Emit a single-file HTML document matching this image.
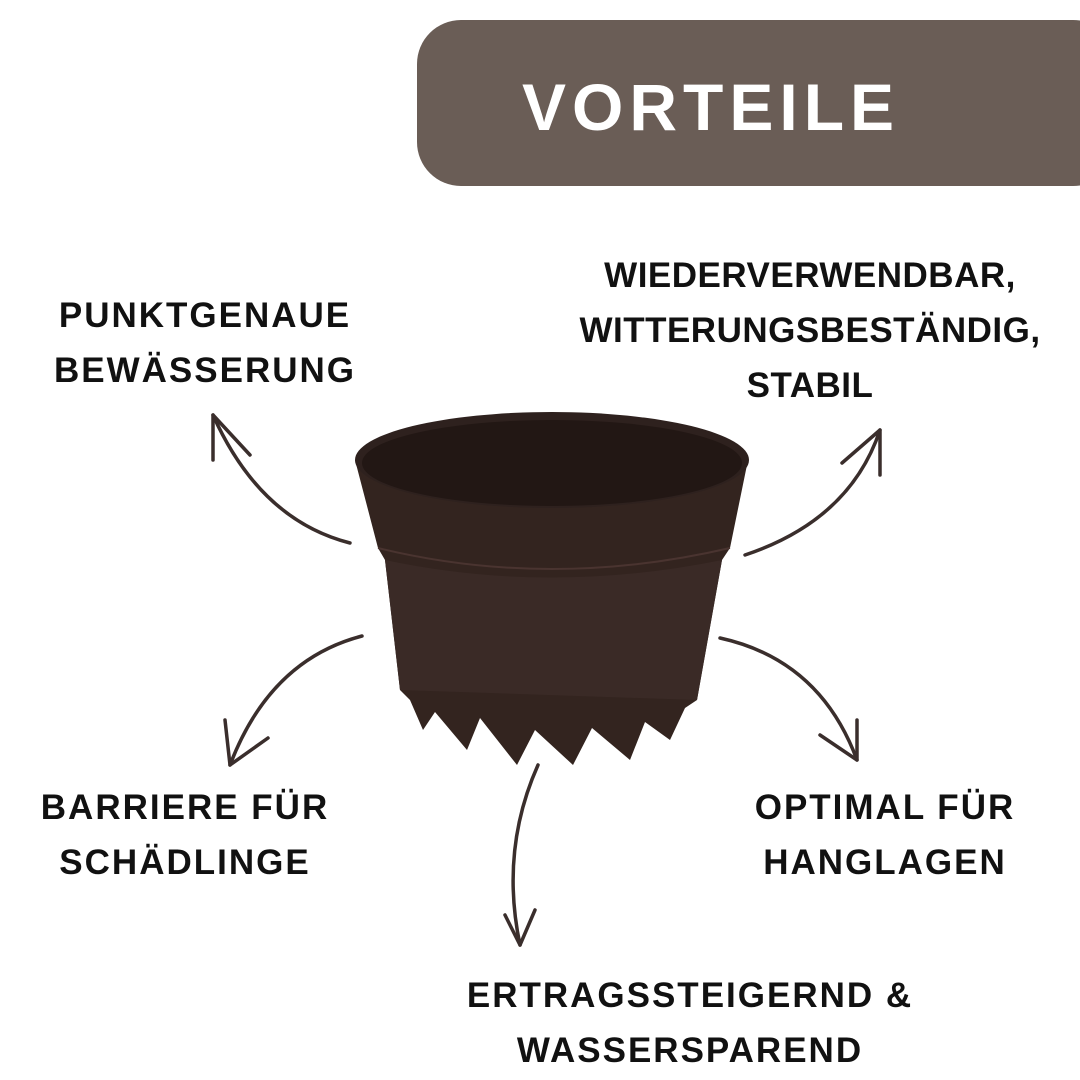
<!DOCTYPE html>
<html><head><meta charset="utf-8"><style>
html,body{margin:0;padding:0;background:#fff;}
#c{position:relative;width:1080px;height:1080px;overflow:hidden;background:#fff;font-family:"Liberation Sans","DejaVu Sans",sans-serif;}
.hdr{position:absolute;left:417px;top:20px;width:700px;height:166px;background:#6a5d56;border-radius:44px;}
.ht{position:absolute;left:522px;top:74px;font-size:66px;font-weight:900;color:#fff;letter-spacing:6px;line-height:1;}
.l{position:absolute;font-weight:900;color:#111;font-size:35px;line-height:55px;text-align:center;letter-spacing:2px;white-space:nowrap;}
</style></head><body><div id="c">
<div class="hdr"></div><div class="ht">VORTEILE</div>
<div class="l" style="left:30px;width:350px;top:288px;">PUNKTGENAUE<br>BEWÄSSERUNG</div>
<div class="l" style="left:545px;width:530px;top:248px;letter-spacing:0.5px;">WIEDERVERWENDBAR,<br>WITTERUNGSBESTÄNDIG,<br>STABIL</div>
<div class="l" style="left:10px;width:350px;top:780px;">BARRIERE FÜR<br>SCHÄDLINGE</div>
<div class="l" style="left:720px;width:330px;top:780px;">OPTIMAL FÜR<br>HANGLAGEN</div>
<div class="l" style="left:430px;width:520px;top:968px;">ERTRAGSSTEIGERND &amp;<br>WASSERSPAREND</div>
<svg width="1080" height="1080" style="position:absolute;left:0;top:0">
<g fill="none" stroke="#3a2e2c" stroke-width="3.5" stroke-linecap="round" stroke-linejoin="round">
<path d="M350 543 Q260 520 213 415"/><path d="M213 460 L213 415 L250 455"/>
<path d="M745 555 Q850 520 880 430"/><path d="M842 463 L880 430 L880 475"/>
<path d="M362 636 Q270 660 230 765"/><path d="M225 720 L230 765 L268 738"/>
<path d="M720 638 Q820 660 857 760"/><path d="M820 735 L857 760 L857 720"/>
<path d="M538 765 Q500 850 520 945"/><path d="M505 915 L520 945 L535 910"/>
</g>
<path d="M355 460 L378 548 L385 560 L400 690 L410 700 L423 730 L435 712 L467 750 L480 718 L517 765 L535 730 L573 765 L592 728 L630 760 L645 722 L670 740 L685 708 L697 700 L722 560 L730 548 L748 460 Z" fill="#33241f"/>
<path d="M385 560 L400 690 L697 700 L722 560 Q550 595 385 560Z" fill="#3a2a26"/>
<ellipse cx="552" cy="460" rx="197" ry="48" fill="#2e211e"/>
<ellipse cx="552" cy="463" rx="190" ry="43" fill="#221714"/>
<path d="M378 548 Q550 590 730 548" stroke="#4a3430" stroke-width="2" fill="none"/>
</svg>
</div></body></html>
